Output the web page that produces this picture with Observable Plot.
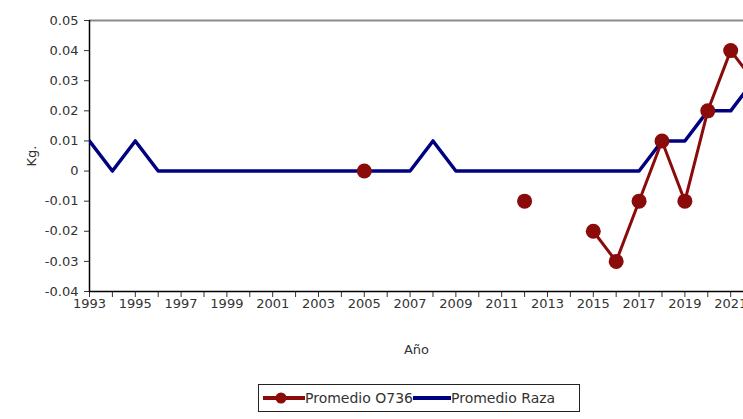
<!DOCTYPE html>
<html>
<head>
<meta charset="utf-8">
<script src="https://cdn.jsdelivr.net/npm/d3@7"></script>
<script src="https://cdn.jsdelivr.net/npm/@observablehq/plot@0.6"></script>
<style>
  html, body { margin: 0; padding: 0; background: #fff; }
  #wrap { position: relative; width: 743px; height: 419px; overflow: hidden; font-family: "DejaVu Sans", sans-serif; }
  #legend { position: absolute; left: 258px; top: 384px; width: 322px; height: 28px; border: 1px solid #222; box-sizing: border-box; display: flex; align-items: center; padding-left: 4px; font-size: 14px; color: #333; background: #fff; }
  #legend .item { display: flex; align-items: center; }
  #legend svg { display: block; }
</style>
</head>
<body>
<div id="wrap"></div>
<script>
// ---- data ----
const years = d3.range(1993, 2023);
const promedioRaza = [0.01, 0, 0.01, 0, 0, 0, 0, 0, 0, 0, 0, 0, 0, 0, 0, 0.01, 0, 0, 0, 0, 0, 0, 0, 0, 0, 0.01, 0.01, 0.02, 0.02, 0.03];
const promedioO736 = [null, null, null, null, null, null, null, null, null, null, null, null, 0, null, null, null, null, null, null, -0.01, null, null, -0.02, -0.03, -0.01, 0.01, -0.01, 0.02, 0.04, 0.03];
const yTicks = [-0.04, -0.03, -0.02, -0.01, 0, 0.01, 0.02, 0.03, 0.04, 0.05];
const seriesNames = ["Promedio O736", "Promedio Raza"];
const seriesColors = ["#8b0a0a", "#000080"];

const raza = years.map((y, i) => ({year: y, value: promedioRaza[i]}));
const o736 = years.map((y, i) => ({year: y, value: promedioO736[i]}));

const chart = Plot.plot({
  width: 743,
  height: 419,
  marginLeft: 89,
  marginRight: 0,
  marginTop: 20,
  marginBottom: 128,
  style: {fontFamily: "DejaVu Sans", fontSize: "13px", color: "#333", background: "#fff"},
  x: {
    type: "linear",
    domain: [1993, 2021.56],
    ticks: years,
    tickFormat: d => ((d - 1993) % 2 === 0 ? String(d) : ""),
    tickSize: 6,
    tickPadding: 1,
    label: "Año",
    labelArrow: "none",
    labelAnchor: "center",
    labelOffset: 62
  },
  y: {
    domain: [-0.04, 0.05],
    ticks: yTicks,
    tickFormat: d => (d === 0 ? "0" : d.toFixed(2)),
    tickSize: 5,
    tickPadding: 6,
    label: "Kg.",
    labelArrow: "none",
    labelAnchor: "center",
    labelOffset: 63
  },
  marks: [
    Plot.ruleY([0.05], {stroke: "#8a8a8a", strokeWidth: 2}),
    Plot.ruleX([1993], {stroke: "#000", strokeWidth: 1.5}),
    Plot.ruleY([-0.04], {stroke: "#000", strokeWidth: 1.5}),
    Plot.line(raza, {x: "year", y: "value", stroke: seriesColors[1], strokeWidth: 3.5, clip: true}),
    Plot.line(o736, {x: "year", y: "value", stroke: seriesColors[0], strokeWidth: 3, clip: true}),
    Plot.dot(o736, {x: "year", y: "value", r: 7.5, fill: seriesColors[0], stroke: "none", clip: true})
  ]
});
document.getElementById("wrap").appendChild(chart);

// legend
const legend = document.createElement("div");
legend.id = "legend";
const symbolWidths = [42, 38];
seriesNames.forEach((name, i) => {
  const item = document.createElement("div");
  item.className = "item";
  const w = symbolWidths[i];
  let svg = `<svg width="${w}" height="14"><line x1="0" x2="${w}" y1="7" y2="7" stroke="${seriesColors[i]}" stroke-width="4"/>`;
  if (i === 0) svg += `<circle cx="${w / 2 - 3}" cy="7" r="5.5" fill="${seriesColors[i]}"/>`;
  svg += `</svg>`;
  item.innerHTML = svg + `<span>${name}</span>`;
  legend.appendChild(item);
});
document.getElementById("wrap").appendChild(legend);
</script>
</body>
</html>
